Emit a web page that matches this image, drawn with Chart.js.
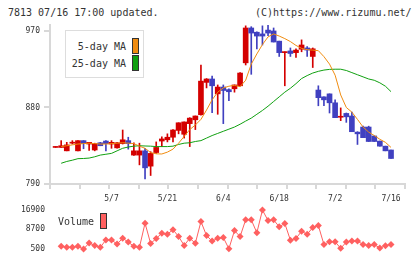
<!DOCTYPE html>
<html>
<head>
<meta charset="utf-8">
<script src="https://cdn.jsdelivr.net/npm/chart.js@4"></script>
<style>
  body { margin: 0; background: #fff; }
  #wrap { position: relative; width: 420px; height: 259px; overflow: hidden; font-family: "DejaVu Sans Mono", monospace; color: #333; }
  .hdr { position: absolute; top: 7px; font-size: 10px; line-height: 12px; white-space: pre; }
  canvas { position: absolute; left: 0; }
  #legend { position: absolute; left: 65px; top: 30px; width: 77px; height: 46px; border: 1px solid #ddd; background: #fff; font-size: 10px; }
  .row { position: absolute; right: 4px; height: 16px; display: flex; align-items: center; }
  .sw { width: 5px; height: 14px; border: 1px solid #333; margin-left: 6px; }
  #vlegend { position: absolute; left: 58px; top: 213px; height: 16px; font-size: 10px; display: flex; align-items: center; }
</style>
</head>
<body>
<div id="wrap">
  <div class="hdr" style="left:8px">7813 07/16 17:00 updated.</div>
  <div class="hdr" style="left:255px">(C)https://www.rizumu.net/</div>
  <canvas id="price" width="420" height="206" style="top:0"></canvas>
  <canvas id="vol" width="420" height="59" style="top:200px"></canvas>
  <div id="legend"></div>
  <div id="vlegend"></div>
</div>
<script>
const opens  = [833, 833, 829, 838, 829, 841, 837, 830, 838.5, 840.5, 837, 832.5, 837.5, 841, 824, 824, 829, 811, 827, 840.5,
                842, 845, 853, 848.5, 861, 865.5, 871.5, 909.5, 913.5, 896, 904, 901, 902, 905.5, 932.5, 973.5, 968.5, 966.5, 971, 970,
                958, 944.5, 946.5, 944.5, 948.5, 950, 940, 900.5, 892.5, 896, 885.5, 868.5, 873, 870, 851, 857, 857, 846.5, 840.5, 834.5, 830];
const highs  = [834, 841, 839, 841, 841, 841, 839, 838, 839, 841, 841, 839, 853.5, 845, 838.5, 838, 832, 828, 839.5, 845.5,
                849, 854, 862, 863, 868, 870, 930, 914, 917, 906.5, 906.5, 902, 906.5, 921, 976, 975, 969, 976, 977, 973.5,
                958, 945.5, 950, 949, 959.5, 951.5, 950, 905.5, 892.5, 896, 889, 879.5, 873.5, 874.5, 851.5, 858, 858, 846.5, 840.5, 834.5, 830];
const lows   = [833, 833, 829, 837, 829, 831.5, 829.5, 829, 835, 829, 832, 832, 837, 831, 823.5, 812.5, 796, 800, 826, 834,
                839.5, 839.5, 849, 844, 834, 854, 871, 903, 874, 872, 861, 888, 898, 905, 930, 919, 949, 953.5, 964.5, 957,
                940, 905.5, 940, 939, 945.5, 940, 927, 882, 882, 873.5, 868, 864.5, 862.5, 851.5, 836.5, 844.5, 840, 840, 834.5, 829, 820];
const closes = [834, 835, 836, 839, 841, 837.5, 839, 837.5, 835, 837.5, 839, 838.5, 842, 837.5, 829, 829, 809, 826, 833, 843,
                845, 853.5, 862, 863, 867.5, 870, 911, 913.5, 905.5, 904, 900, 898.5, 906.5, 920.5, 973.5, 967.5, 964, 964, 967.5, 957,
                944.5, 945, 943.5, 947.5, 953.5, 947.5, 949, 891.5, 889, 885.5, 868, 869.5, 869, 851.5, 849, 844.5, 840, 840, 834.5, 829, 820];
const ma5    = [null, 834, 835, 836, 837, 837.5, 838, 837.5, 837, 837, 837.5, 838, 838.5, 838, 837.5, 834.5, 832, 827, 825.5, 825.3,
                827.5, 831, 838, 846, 854, 859.4, 866, 877, 889, 898, 903, 905, 906, 904.5, 912, 931, 943, 954, 963, 966.5,
                964, 961, 957.5, 953, 949.5, 948, 947.5, 946.8, 939.8, 931, 918, 894.7, 880, 874.5, 866, 857, 851, 847, 842.6, 839, 833];
const ma25   = [null, 814.4, 816.5, 818, 819.8, 820, 820.5, 822, 824, 825, 826, 829, 832, 833.5, 834.5, 835, 834.7, 834.5, 834, 834,
                834, 834.5, 836.5, 838, 838.5, 840, 841, 844, 847, 849.5, 852, 854.5, 857, 860.3, 864, 867.5, 872, 876.5, 881.5, 887,
                892.5, 898, 902.6, 908, 914, 917.5, 920.5, 922.5, 924, 924.8, 925, 925, 923.5, 921, 918.5, 916, 913.5, 912, 909, 905, 898.6];
const volumes = [null, 1600, 1200, 1200, 1600, 500, 3000, 2000, 1200, 4300, 4300, 2550, 5000, 3400, 1600, 1200, 11300, 2800, 4900, 7100,
                6650, 8600, 5700, 2000, 5000, 2900, 12000, 6100, 3800, 5000, 5300, 600, 8200, 5700, 12700, 12700, 7300, 16800, 12400, 12700,
                9800, 11200, 4200, 4900, 7900, 6650, 9500, 10300, 2400, 3500, 3500, 800, 3400, 3800, 3800, 2400, 2000, 2400, 900, 1900, 2400];
const tickIdx = [10, 20, 30, 40, 50, 60];
const tickLabels = ['5/7', '5/21', '6/4', '6/18', '7/2', '7/16'];
const priceTicks = [790, 880, 970];
const volTicks = [500, 8700, 16900];

const upColor = '#d40000';
const downColor = '#4040c0';
const axisColor = '#d8d8d8';
const tickFont = { family: 'DejaVu Sans Mono', size: 8 };
const candleColors = closes.map((c, i) => c >= opens[i] ? upColor : downColor);

const series = [
  { label: '5-day MA', data: ma5, color: '#f08c10' },
  { label: '25-day MA', data: ma25, color: '#10a010' }
];

const xRange = { min: -1, max: 62.5 };

new Chart(document.getElementById('price'), {
  type: 'bar',
  data: {
    datasets: [
      ...series.map(s => ({
        type: 'line',
        label: s.label,
        xAxisID: 'x', yAxisID: 'y',
        data: s.data.map((v, i) => ({ x: i, y: v })),
        borderColor: s.color,
        borderWidth: 1,
        pointRadius: 0,
        tension: 0,
        order: 0
      })),
      {
        label: 'wick',
        xAxisID: 'x', yAxisID: 'y',
        data: lows.map((l, i) => ({ x: i, y: [l, highs[i]] })),
        backgroundColor: candleColors,
        barThickness: 1,
        grouped: false,
        order: 2
      },
      {
        label: 'body',
        xAxisID: 'x', yAxisID: 'y',
        data: opens.map((o, i) => ({ x: i, y: [o, closes[i]] })),
        backgroundColor: candleColors,
        barThickness: 5,
        minBarLength: 1,
        grouped: false,
        order: 1
      }
    ]
  },
  options: {
    responsive: false,
    animation: false,
    layout: { padding: { top: 25, right: 15, left: 0, bottom: 0 } },
    plugins: { legend: { display: false }, tooltip: { enabled: false } },
    scales: {
      // tick marks along the bottom axis line (own spacing, no labels)
      xt: {
        type: 'linear', position: 'bottom', min: 0, max: 11,
        ticks: { display: false, stepSize: 1 },
        grid: { drawOnChartArea: false, color: axisColor, lineWidth: 2, tickLength: 5 },
        border: { color: axisColor, width: 2 },
        afterFit: s => { s.height = 8; }
      },
      x: {
        type: 'linear', position: 'bottom', offset: false, ...xRange,
        grid: { display: false, drawTicks: false },
        border: { display: false },
        ticks: { font: tickFont, color: '#333', padding: 2, maxRotation: 0, autoSkip: false,
                 callback: (v, i) => tickLabels[i] },
        afterBuildTicks: s => { s.ticks = tickIdx.map(v => ({ value: v })); },
        afterFit: s => { s.height = 14; }
      },
      y: {
        min: 790, max: 977,
        grid: { drawOnChartArea: false, color: axisColor, lineWidth: 2, tickLength: 6 },
        border: { color: axisColor, width: 2 },
        ticks: { font: tickFont, color: '#333', padding: 4 },
        afterBuildTicks: s => { s.ticks = priceTicks.map(v => ({ value: v })); },
        afterFit: s => { s.width = 50; }
      }
    }
  }
});

new Chart(document.getElementById('vol'), {
  type: 'line',
  data: {
    datasets: [{
      label: 'Volume',
      data: volumes.map((v, i) => ({ x: i, y: v })),
      borderColor: '#ff6060',
      backgroundColor: '#ff6060',
      borderWidth: 1,
      pointStyle: 'rectRot',
      pointRadius: 3.5,
      pointBorderWidth: 0,
      tension: 0,
      clip: false
    }]
  },
  options: {
    responsive: false,
    animation: false,
    layout: { padding: { top: 9, right: 15, left: 0, bottom: 10 } },
    plugins: { legend: { display: false }, tooltip: { enabled: false } },
    scales: {
      x: { type: 'linear', display: false, ...xRange },
      y: {
        min: 500, max: 16900,
        grid: { display: false, drawTicks: false },
        border: { display: false },
        ticks: { font: tickFont, color: '#333', padding: 5, callback: v => String(v) },
        afterBuildTicks: s => { s.ticks = volTicks.map(v => ({ value: v })); },
        afterFit: s => { s.width = 50; }
      }
    }
  }
});

// legends
const legend = document.getElementById('legend');
series.forEach((s, k) => {
  const row = document.createElement('div');
  row.className = 'row';
  row.style.top = (7 + k * 17) + 'px';
  row.innerHTML = `<span>${s.label}</span><span class="sw" style="background:${s.color}"></span>`;
  legend.appendChild(row);
});
document.getElementById('vlegend').innerHTML =
  `<span>Volume</span><span class="sw" style="background:#ff6060"></span>`;
</script>
</body>
</html>
